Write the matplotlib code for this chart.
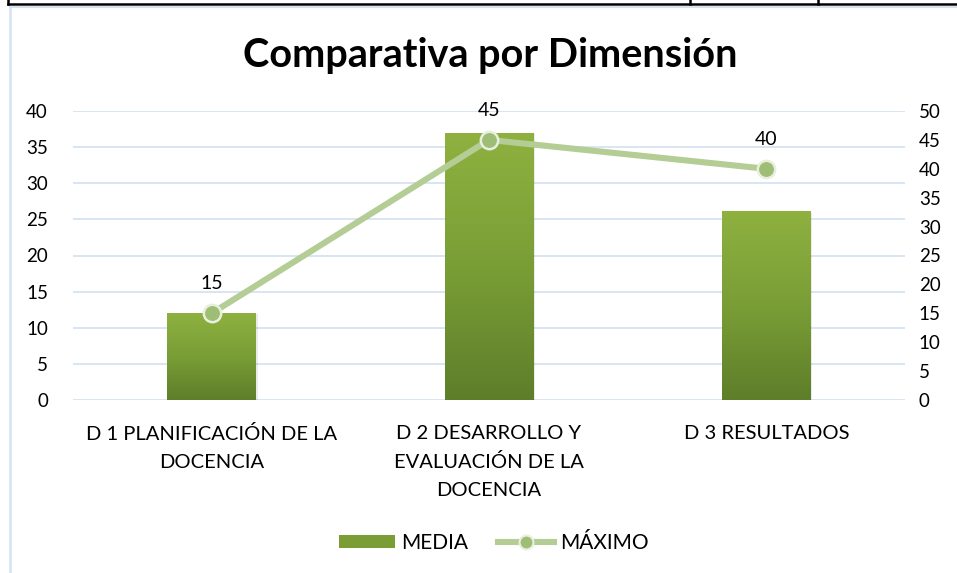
import matplotlib
matplotlib.use("Agg")
import matplotlib.pyplot as plt
import numpy as np
from matplotlib.colors import LinearSegmentedColormap
from matplotlib.lines import Line2D
from matplotlib.patches import Patch

plt.rcParams['font.family'] = ['Lato', 'DejaVu Sans']

categories = ["D 1 PLANIFICACIÓN DE LA\nDOCENCIA",
              "D 2 DESARROLLO Y\nEVALUACIÓN DE LA\nDOCENCIA",
              "D 3 RESULTADOS"]
media = [12.1, 37.0, 26.2]
maximo = [15, 45, 40]
left_ticks = list(range(0, 41, 5))
right_ticks = list(range(0, 51, 5))

W, H = 957, 573
fig = plt.figure(figsize=(W / 100, H / 100), dpi=100)

def fx(px):
    return px / W

def fy(py):
    return 1 - py / H

# page decorations (table border and chart frame)
fig.add_artist(Line2D([fx(8), 1], [fy(4), fy(4)], color='black', lw=1.8))
for xx in (8, 690, 818):
    fig.add_artist(Line2D([fx(xx), fx(xx)], [1, fy(4)], color='black', lw=1.8))
fig.add_artist(Line2D([fx(10), 1], [fy(6.5), fy(6.5)], color='#D5E2F1', lw=1.5))
fig.add_artist(Line2D([fx(10), fx(10)], [fy(6.5), 0], color='#D5E2F1', lw=1.8))

ax = fig.add_axes([fx(73), fy(400), fx(905 - 73), (400 - 111) / H])
ax2 = ax.twinx()

x = np.arange(len(categories))
ax.set_xlim(-0.5, 2.5)
ax.set_ylim(0, 40)
ax2.set_ylim(0, 50)

bw = 0.32
cmap = LinearSegmentedColormap.from_list('g', ['#5E7E2A', '#7A9E36', '#8EB140'])
grad = np.linspace(0, 1, 256).reshape(-1, 1)
bars = ax.bar(x, media, width=bw, color='none', zorder=2)
for b, v in zip(bars, media):
    # subtle shadow
    ax.bar(b.get_x() + b.get_width() / 2 + 0.006, v, width=bw, bottom=-0.25,
           color='#000000', alpha=0.08, zorder=1.5)
    im = ax.imshow(grad, cmap=cmap, origin='lower', aspect='auto',
                   extent=[b.get_x(), b.get_x() + b.get_width(), 0, v], zorder=2)
    im.set_clip_path(b)
ax.set_xlim(-0.5, 2.5)
ax.set_ylim(0, 40)

ax.set_yticks(left_ticks)
ax2.set_yticks(right_ticks)
ax.yaxis.grid(True, color='#D6E3F2', lw=1.3)
ax.set_axisbelow(True)
for a in (ax, ax2):
    for s in a.spines.values():
        s.set_visible(False)
    a.tick_params(length=0, labelsize=13.5, colors='#000000')
ax.tick_params(axis='y', pad=18)
ax2.tick_params(axis='y', pad=10)
ax.set_xticks(x)
ax.set_xticklabels(categories, fontsize=14.5, linespacing=1.75)
ax.tick_params(axis='x', pad=18)

# line series
ax2.plot(x, maximo, color='#B3CD95', lw=4.4, solid_capstyle='round', zorder=3)
ax2.plot(x, maximo, ls='none', marker='o', ms=12.5, mfc='#9EBE75',
         mec='#E9EFDF', mew=1.8, zorder=4)
for xi, v in zip(x, maximo):
    ax2.annotate(str(v), (xi, v), xytext=(0, 15), textcoords='offset points',
                 ha='center', va='bottom', fontsize=14)

fig.text(fx(490), fy(55), "Comparativa por Dimensión", ha='center', va='center',
         fontsize=28.5, fontweight='bold')

handles = [Patch(facecolor='#7A9E35', edgecolor='none'),
           Line2D([], [], color='#B3CD95', lw=4.4, marker='o', ms=10,
                  mfc='#9EBE75', mec='#E9EFDF', mew=1.5)]
fig.legend(handles, ['MEDIA', 'MÁXIMO'], loc='center', bbox_to_anchor=(fx(494), fy(543)),
           ncol=2, frameon=False, fontsize=15, handlelength=2.7, handleheight=0.6,
           columnspacing=1.4, handletextpad=0.3)

fig.savefig('out.png', dpi=100, facecolor='white')
